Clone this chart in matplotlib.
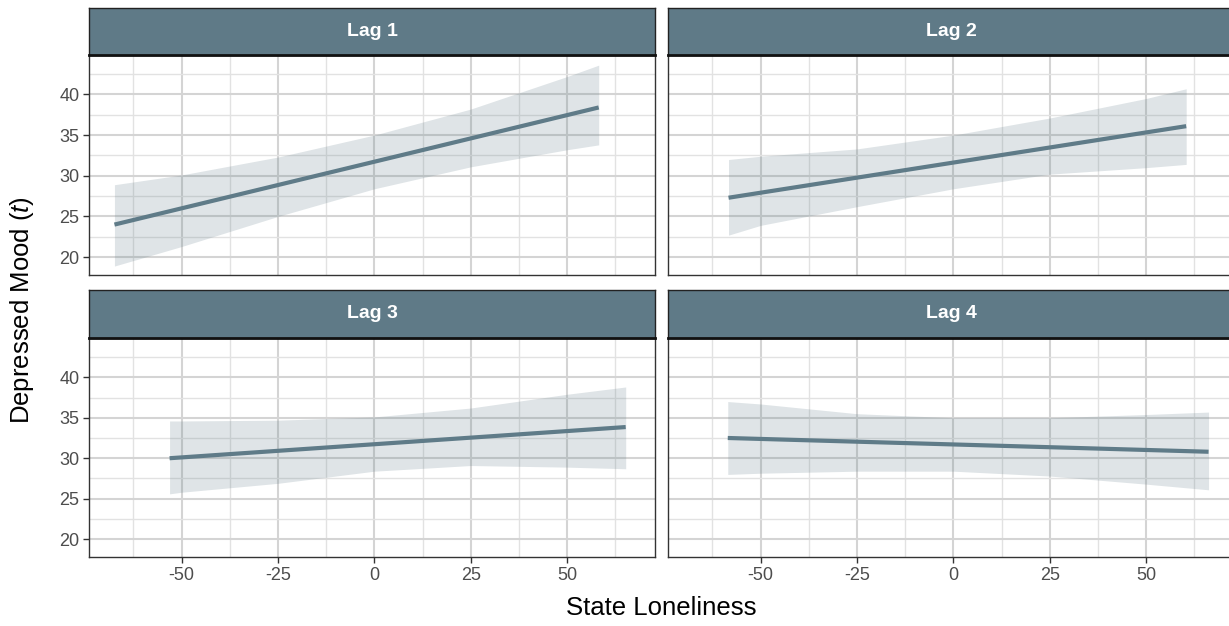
import matplotlib
matplotlib.use('Agg')
import numpy as np
import matplotlib.pyplot as plt
from matplotlib.ticker import MultipleLocator


plt.rcParams['font.family'] = ['Liberation Sans', 'DejaVu Sans']
plt.rcParams['mathtext.fontset'] = 'custom'
plt.rcParams['mathtext.it'] = 'Liberation Sans:italic'
plt.rcParams['mathtext.rm'] = 'Liberation Sans'
plt.rcParams['axes.unicode_minus'] = False

line_colour = '#5f7b88'
strip_colour = '#5f7a87'

lags = ['Lag 1', 'Lag 2', 'Lag 3', 'Lag 4']

# band x positions, lower/upper band, fitted values at the two ends
lag1_x = [-67.4, -50, -25, 0, 25, 50, 58.2]
lag1_lower = [18.9, 21.3, 25.0, 28.4, 31.1, 33.2, 33.8]
lag1_upper = [28.9, 30.1, 32.3, 35.0, 38.2, 42.2, 43.6]
lag1_fit = [24.0, 38.4]

lag2_x = [-58.3, -50, -25, 0, 25, 50, 60.4]
lag2_lower = [22.7, 23.9, 26.2, 28.4, 30.2, 31.0, 31.4]
lag2_upper = [32.0, 32.4, 33.3, 35.0, 37.1, 39.5, 40.7]
lag2_fit = [27.3, 36.1]

lag3_x = [-53.1, -50, -25, 0, 25, 50, 65.2]
lag3_lower = [25.6, 25.8, 26.9, 28.4, 29.1, 28.9, 28.7]
lag3_upper = [34.6, 34.6, 34.7, 35.1, 36.2, 37.9, 38.8]
lag3_fit = [30.0, 33.85]

lag4_x = [-58.5, -50, -25, 0, 25, 50, 66.2]
lag4_lower = [28.0, 28.15, 28.4, 28.4, 27.8, 26.8, 26.1]
lag4_upper = [37.0, 36.7, 35.5, 35.0, 35.0, 35.4, 35.7]
lag4_fit = [32.5, 30.8]

panels = [
    (lag1_x, lag1_fit, lag1_lower, lag1_upper),
    (lag2_x, lag2_fit, lag2_lower, lag2_upper),
    (lag3_x, lag3_fit, lag3_lower, lag3_upper),
    (lag4_x, lag4_fit, lag4_lower, lag4_upper),
]

x_ticks = [-50, -25, 0, 25, 50]
y_ticks = [20, 25, 30, 35, 40]

W, H = 1229, 626
fig = plt.figure(figsize=(W / 100, H / 100), dpi=100)

col_left = [89, 668]
col_width = 566
row_top = [55, 338]
row_height = [220, 219]
strip_top = [8, 290]


def frac(x0, y0, w, h):
    return [x0 / W, 1 - (y0 + h) / H, w / W, h / H]


for i, (label, (xs, fit, lower, upper)) in enumerate(zip(lags, panels)):
    row, col = divmod(i, 2)
    ax = fig.add_axes(frac(col_left[col], row_top[row], col_width, row_height[row]))
    ax.fill_between(xs, lower, upper, color=strip_colour, alpha=0.2, lw=0, zorder=3)
    ax.plot([xs[0], xs[-1]], fit, color=line_colour, lw=3.0,
            solid_capstyle='butt', zorder=4)

    ax.set_xlim(-74.0, 72.8)
    ax.set_ylim(17.8, 44.85)
    ax.xaxis.set_minor_locator(MultipleLocator(12.5))
    ax.yaxis.set_minor_locator(MultipleLocator(2.5))
    ax.set_xticks(x_ticks)
    ax.set_yticks(y_ticks)
    ax.grid(which='major', color='#d4d4d4', lw=1.5, zorder=0)
    ax.grid(which='minor', color='#e2e2e2', lw=1.0, zorder=0)
    ax.set_axisbelow(True)
    ax.tick_params(which='minor', length=0)
    ax.tick_params(which='major', length=4, width=1, color='#333333',
                   labelsize=13, labelcolor='#4d4d4d', pad=3)
    for s in ax.spines.values():
        s.set_color('#333333')
        s.set_linewidth(1.0)
    if row == 0:
        ax.tick_params(axis='x', length=0, labelbottom=False)
    if col == 1:
        ax.tick_params(axis='y', length=0, labelleft=False)

    # facet strip
    sax = fig.add_axes(frac(col_left[col], strip_top[row], col_width,
                            row_top[row] - strip_top[row]))
    sax.set_facecolor(strip_colour)
    sax.set_xticks([])
    sax.set_yticks([])
    for s in sax.spines.values():
        s.set_color('#222222')
        s.set_linewidth(1.0)
    sax.spines['bottom'].set_color('#111111')
    sax.spines['bottom'].set_linewidth(2.0)
    sax.text(0.5, 0.5, label, transform=sax.transAxes, ha='center', va='center',
             color='white', fontsize=14, fontweight='bold')

fig.text(661 / W, 1 - 608 / H, 'State Loneliness', ha='center', va='center',
         fontsize=18.5, color='black')
fig.text(22 / W, 1 - 310 / H, r'Depressed Mood ($\it{t}$)', ha='center', va='center',
         rotation=90, fontsize=18.5, color='black')

fig.savefig('out.png', dpi=100)
